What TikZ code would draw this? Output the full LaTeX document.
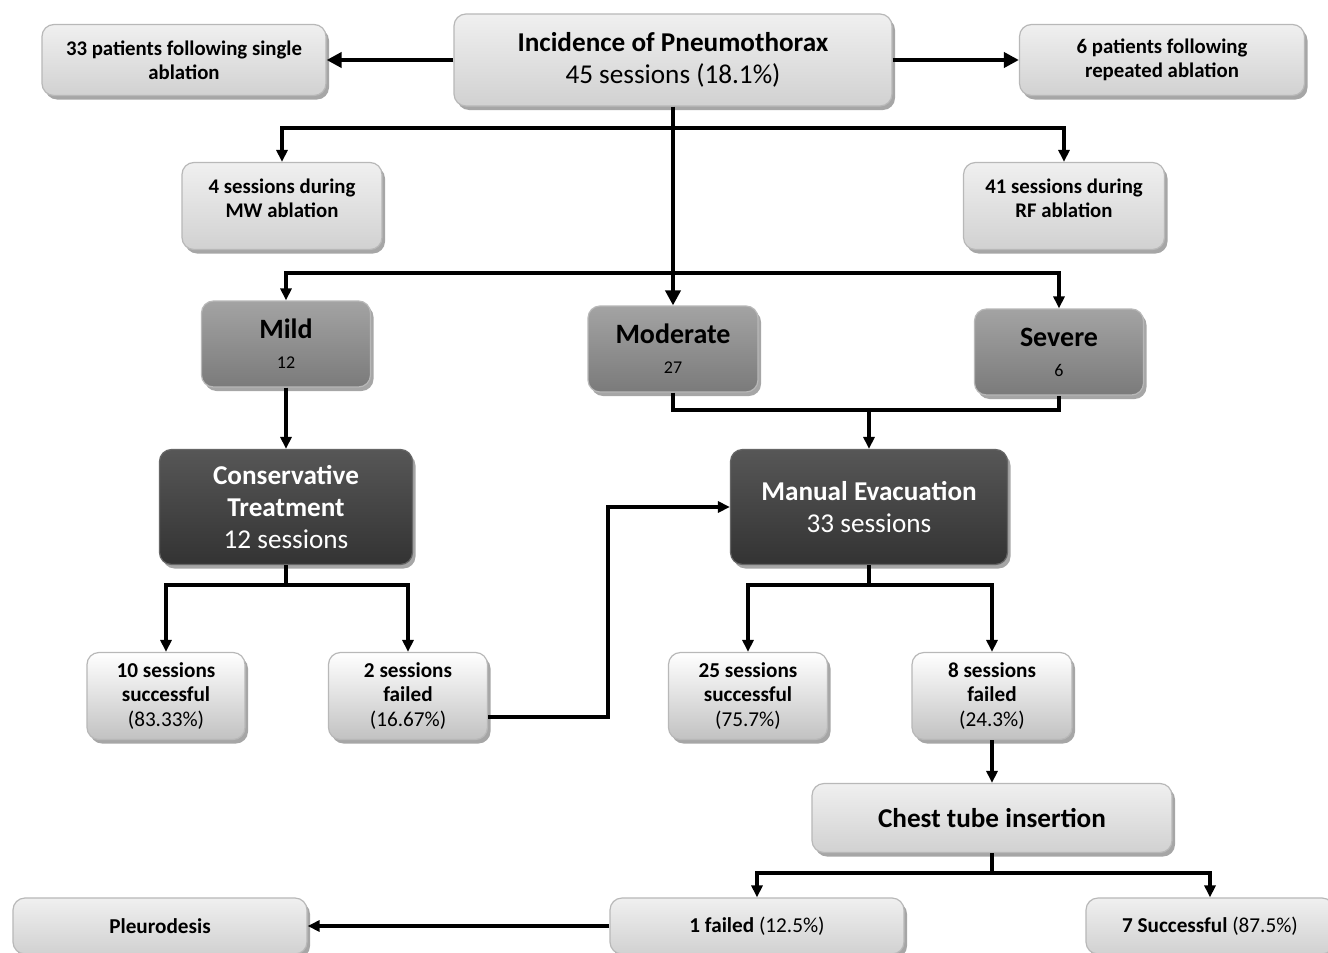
\documentclass[tikz,border=0pt]{standalone}
\usepackage{fontspec}
\setmainfont{Carlito}
\usetikzlibrary{arrows.meta,shadows}
\begin{document}
\begin{tikzpicture}[x=0.5pt,y=-0.5pt,
  boxbase/.style={rectangle, rounded corners=6pt, draw=black!28, line width=0.6pt, align=center, inner sep=0pt,
    drop shadow={shadow xshift=1.5pt, shadow yshift=-2pt, opacity=0.35, fill=black}},
  lightbox/.style={boxbase, top color=black!6, bottom color=black!18, text=black},
  resbox/.style={boxbase, top color=white, bottom color=black!24, text=black},
  midbox/.style={boxbase, top color=black!36, bottom color=black!52, text=black},
  darkbox/.style={boxbase, draw=black!60, top color=black!66, bottom color=black!80, text=white},
  smallbold/.style={font=\fontsize{10.4}{12}\selectfont\bfseries},
  restxt/.style={font=\fontsize{10.6}{12.2}\selectfont},
  bigtxt/.style={font=\fontsize{13.6}{16.2}\selectfont},
  bigarrow/.style={line width=2pt, -{Triangle[length=7.5pt,width=7.5pt]}},
  arr/.style={line width=1.6pt, -{Triangle[length=6pt,width=5.5pt]}},
  plain/.style={line width=1.6pt}
]
\useasboundingbox (0,0) rectangle (1328,953);
\clip (0,0) rectangle (1328,953);
\fill[white] (0,0) rectangle (1328,953);

% top row
\node[lightbox, bigtxt, minimum width=219pt, minimum height=46pt] (inc) at (673,60)
  {\textbf{Incidence of Pneumothorax}\\45 sessions (18.1\%)};
\node[lightbox, smallbold, minimum width=142pt, minimum height=35.5pt] (single) at (184,60)
  {33 patients following single\\ablation};
\node[lightbox, smallbold, minimum width=142.5pt, minimum height=35.5pt] (repeated) at (1162,60)
  {6 patients following\\repeated ablation};

% ablation type
\node[lightbox, smallbold, minimum width=100pt, minimum height=43.5pt] (mw) at (282,206)
  {\raisebox{3pt}{\smash{\parbox{100pt}{\centering 4 sessions during\\MW ablation}}}};
\node[lightbox, smallbold, minimum width=100.5pt, minimum height=43.5pt] (rf) at (1064,206)
  {\raisebox{3pt}{\smash{\parbox{100pt}{\centering 41 sessions during\\RF ablation}}}};

% severity
\node[midbox, minimum width=84.5pt, minimum height=43pt] (mild) at (286,344)
  {{\fontsize{14}{15}\selectfont\bfseries Mild}\\[3pt]{\fontsize{9}{10}\selectfont 12}};
\node[midbox, minimum width=85pt, minimum height=43pt] (mod) at (673,349)
  {{\fontsize{14}{15}\selectfont\bfseries Moderate}\\[3pt]{\fontsize{9}{10}\selectfont 27}};
\node[midbox, minimum width=84.5pt, minimum height=43pt] (sev) at (1059,352)
  {{\fontsize{14}{15}\selectfont\bfseries Severe}\\[3pt]{\fontsize{9}{10}\selectfont 6}};

% treatments
\node[darkbox, bigtxt, minimum width=126.5pt, minimum height=57.5pt] (cons) at (286,507)
  {\textbf{Conservative}\\\textbf{Treatment}\\12 sessions};
\node[darkbox, bigtxt, minimum width=138.5pt, minimum height=57.5pt] (man) at (869,507)
  {\textbf{Manual Evacuation}\\33 sessions};

% outcomes
\node[resbox, restxt, minimum width=79pt, minimum height=43.5pt] (s10) at (166,696)
  {\textbf{10 sessions}\\\textbf{successful}\\(83.33\%)};
\node[resbox, restxt, minimum width=79.5pt, minimum height=43.5pt] (f2) at (408,696)
  {\textbf{2 sessions}\\\textbf{failed}\\(16.67\%)};
\node[resbox, restxt, minimum width=79.5pt, minimum height=43.5pt] (s25) at (748,696)
  {\textbf{25 sessions}\\\textbf{successful}\\(75.7\%)};
\node[resbox, restxt, minimum width=80pt, minimum height=43.5pt] (f8) at (992,696)
  {\textbf{8 sessions}\\\textbf{failed}\\(24.3\%)};

% chest tube
\node[lightbox, minimum width=180pt, minimum height=34.5pt, font=\fontsize{13.6}{15}\selectfont\bfseries] (chest) at (992,818)
  {Chest tube insertion};

% bottom row
\node[lightbox, restxt, minimum width=147pt, minimum height=28pt] (fail1) at (757,926)
  {\textbf{1 failed} (12.5\%)};
\node[lightbox, restxt, minimum width=124pt, minimum height=28pt] (succ7) at (1210,926)
  {\textbf{7 Successful} (87.5\%)};
\node[lightbox, restxt, minimum width=147pt, minimum height=28pt] (pleu) at (160,926)
  {\textbf{Pleurodesis}};

% coordinates
\coordinate (b1) at (673,128);
\coordinate (b2) at (673,273);
\coordinate (j1) at (869,410);
\coordinate (j2) at (286,585);
\coordinate (j3) at (869,585);
\coordinate (j4) at (992,873);
\coordinate (c1) at (608,717);

% connectors
\draw[bigarrow] (inc.west) -- (single.east);
\draw[bigarrow] (inc.east) -- (repeated.west);
\draw[bigarrow] (inc.south) -- (mod.north);
\draw[arr] (b1) -| (mw.north);
\draw[arr] (b1) -| (rf.north);
\draw[arr] (b2) -| (mild.north);
\draw[arr] (b2) -| (sev.north);
\draw[plain] (mod.south) |- (j1) -| (sev.south);
\draw[arr] (j1) -- (man.north);
\draw[arr] (mild.south) -- (cons.north);
\draw[plain] (cons.south) -- (j2);
\draw[arr] (j2) -| (s10.north);
\draw[arr] (j2) -| (f2.north);
\draw[arr] (f2.east |- c1) -- (c1) |- (man.west);
\draw[plain] (man.south) -- (j3);
\draw[arr] (j3) -| (s25.north);
\draw[arr] (j3) -| (f8.north);
\draw[arr] (f8.south) -- (chest.north);
\draw[plain] (chest.south) -- (j4);
\draw[arr] (j4) -| (fail1.north);
\draw[arr] (j4) -| (succ7.north);
\draw[arr] (fail1.west) -- (pleu.east);
\end{tikzpicture}
\end{document}
